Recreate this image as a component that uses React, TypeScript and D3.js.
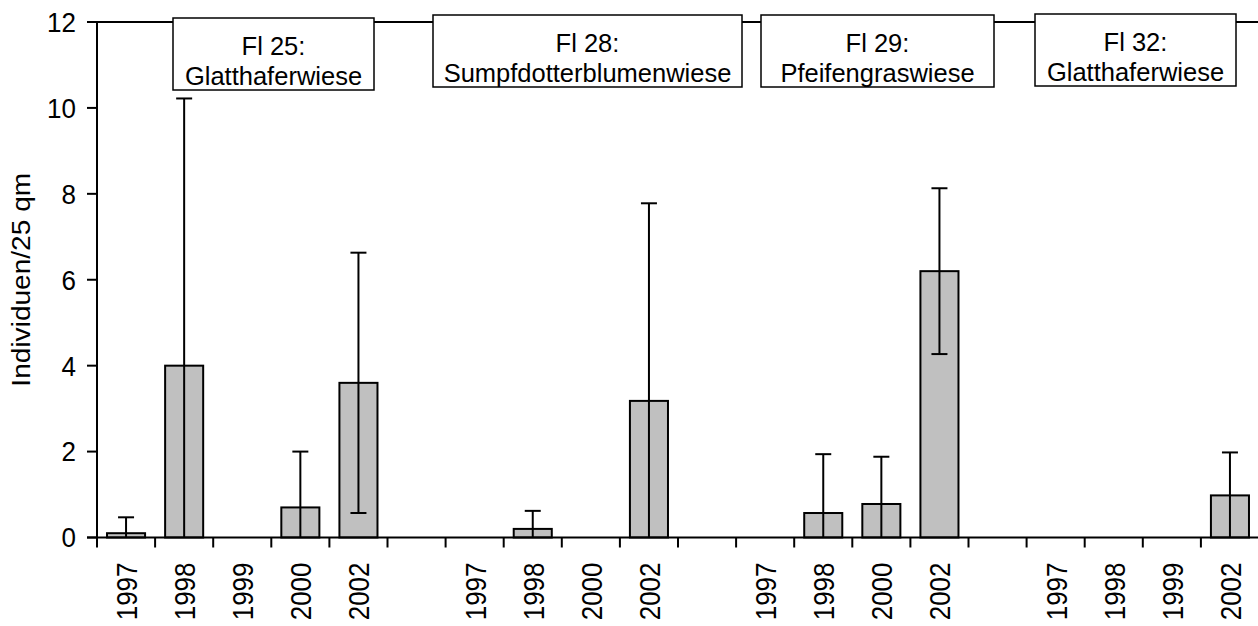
import React from "react";
import * as d3 from "d3";

// ---- data ----
const categories: string[] = [
  "1997", "1998", "1999", "2000", "2002", "",
  "1997", "1998", "2000", "2002", "",
  "1997", "1998", "2000", "2002", "",
  "1997", "1998", "1999", "2002",
];
const means: (number | null)[] = [
  0.1, 4.0, 0, 0.7, 3.6, null,
  0, 0.2, 0, 3.18, null,
  0, 0.57, 0.78, 6.2, null,
  0, 0, 0, 0.98,
];
const errors: (number | null)[] = [
  0.37, 6.22, 0, 1.3, 3.03, null,
  0, 0.42, 0, 4.6, null,
  0, 1.37, 1.1, 1.93, null,
  0, 0, 0, 1.0,
];
const yTicks: number[] = [0, 2, 4, 6, 8, 10, 12];
const groupLabels: string[][] = [
  ["Fl 25:", "Glatthaferwiese"],
  ["Fl 28:", "Sumpfdotterblumenwiese"],
  ["Fl 29:", "Pfeifengraswiese"],
  ["Fl 32:", "Glatthaferwiese"],
];
const yTitle = "Individuen/25 qm";

// ---- layout ----
const W = 1258;
const H = 626;
const M = { left: 97, top: 22, right: 1259, bottom: 537.5 };
const boxLayout = [
  { x0: 173, x1: 374, y: 18 },
  { x0: 433, x1: 742, y: 15 },
  { x0: 761, x1: 994, y: 15 },
  { x0: 1035, x1: 1236, y: 14 },
];
const BOX_H = 72;
const FONT = "'Liberation Sans', Arial, Helvetica, sans-serif";
const STRETCH = 1.17;

export default function App() {
  const idx = categories.map((_, i) => String(i));
  const x = d3.scaleBand<string>().domain(idx).range([M.left, M.right]).padding(0);
  const y = d3.scaleLinear().domain([0, 12]).range([M.bottom, M.top]);
  const bw = x.bandwidth() * 0.655;
  const capW = 16;

  return (
    <svg width={W} height={H} style={{ position: "absolute", left: 0, top: 0, background: "#fff" }}>
      <rect x={0} y={0} width={W} height={H} fill="#fff" />
      {/* top frame line */}
      <line x1={M.left} x2={W} y1={y(12)} y2={y(12)} stroke="#000" strokeWidth={2} />
      {/* bars */}
      {means.map((v, i) => {
        if (v == null || v === 0) return null;
        const cx = x(String(i))! + x.bandwidth() / 2;
        return (
          <rect key={"b" + i} x={cx - bw / 2} y={y(v)} width={bw} height={y(0) - y(v)}
            fill="#c0c0c0" stroke="#000" strokeWidth={2} />
        );
      })}
      {/* error bars */}
      {means.map((v, i) => {
        const e = errors[i];
        if (v == null || v === 0 || e == null) return null;
        const cx = x(String(i))! + x.bandwidth() / 2;
        const hi = v + e;
        const lo = Math.max(0, v - e);
        return (
          <g key={"e" + i} stroke="#000" strokeWidth={2}>
            <line x1={cx} x2={cx} y1={y(hi)} y2={y(lo)} />
            <line x1={cx - capW / 2} x2={cx + capW / 2} y1={y(hi)} y2={y(hi)} />
            {v - e > 0 && <line x1={cx - capW / 2} x2={cx + capW / 2} y1={y(lo)} y2={y(lo)} />}
          </g>
        );
      })}
      {/* y axis */}
      <line x1={M.left} x2={M.left} y1={y(12) - 1} y2={y(0) + 1} stroke="#000" strokeWidth={2} />
      {yTicks.map((t) => (
        <g key={"yt" + t}>
          <line x1={M.left - 10} x2={M.left} y1={y(t)} y2={y(t)} stroke="#000" strokeWidth={2} />
          <text transform={`translate(${M.left - 21},${y(t)}) scale(1,1.05)`} dy="0.36em" textAnchor="end"
            fontFamily={FONT} fontSize={26} fill="#000">
            {t}
          </text>
        </g>
      ))}
      <text transform={`translate(21,${(y(0) + y(12)) / 2}) rotate(-90) scale(1.08,1)`} dy="0.36em" textAnchor="middle"
        fontFamily={FONT} fontSize={26} fill="#000">{yTitle}</text>
      {/* x axis */}
      <line x1={M.left - 10} x2={W} y1={y(0)} y2={y(0)} stroke="#000" strokeWidth={2} />
      {idx.concat(["end"]).map((k, i) => {
        const px = i < idx.length ? x(k)! : M.right;
        return <line key={"xt" + i} x1={px} x2={px} y1={y(0)} y2={y(0) + 10} stroke="#000" strokeWidth={2} />;
      })}
      {categories.map((c, i) => {
        if (!c) return null;
        const cx = x(String(i))! + x.bandwidth() / 2;
        return (
          <text key={"xl" + i} transform={`translate(${cx},${y(0) + 25}) rotate(-90) scale(1,${STRETCH})`} dy="0.36em"
            textAnchor="end" fontFamily={FONT} fontSize={26} fill="#000">{c}</text>
        );
      })}
      {/* group label boxes */}
      {groupLabels.map((lines, gi) => {
        const b = boxLayout[gi];
        const cx = (b.x0 + b.x1) / 2;
        return (
          <g key={"g" + gi}>
            <rect x={b.x0} y={b.y} width={b.x1 - b.x0} height={BOX_H} fill="#fff" stroke="#000" strokeWidth={1.5} />
            {lines.map((l, li) => (
              <text key={li} x={cx} y={b.y + 37 + li * 30}
                textAnchor="middle" fontFamily={FONT} fontSize={25.5} fill="#000">
                {l}
              </text>
            ))}
          </g>
        );
      })}
    </svg>
  );
}
